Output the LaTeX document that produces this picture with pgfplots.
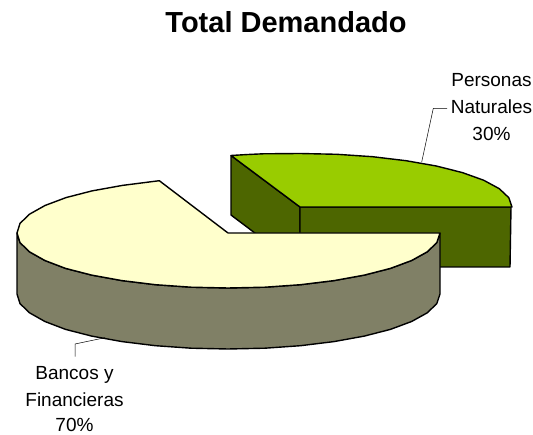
\documentclass[border=0pt]{standalone}
\usepackage{fontspec}
\setmainfont{Liberation Sans}
\usepackage{pgfplots}
\pgfplotsset{compat=1.18}
\definecolor{gtop}{HTML}{99CC00}
\definecolor{gside}{HTML}{4D6600}
\definecolor{ytop}{HTML}{FFFFCC}
\definecolor{yside}{HTML}{808066}
\begin{document}
\begin{tikzpicture}
\path[use as bounding box] (0,0) rectangle (533pt,435pt);
\begin{axis}[at={(0,0)},anchor=south west,width=533pt,height=435pt,scale only axis,
  xmin=0,xmax=533,ymin=0,ymax=435,y dir=reverse,hide axis,clip=false,
  every axis plot/.append style={line width=1.4pt,line join=round,mark=none}]
% green slice: left wall
\addplot[draw=black,fill=gside] coordinates {(231,155.5)(300,207)(300,267)(231,215)(231,155.5)};
% green slice: front wall
\addplot[draw=black,fill=gside] coordinates {(300,207)(511,207)(510,267)(300,267)(300,207)};
% green slice: top
\addplot[draw=black,fill=gtop] coordinates {
(300,207)(231,155.5)(246,154.6)(263.1,153.8)(300,153.5)(336.9,154.3)(372.5,156.7)(406,160.7)
(436.3,166)(462.4,172.6)(483.6,180.2)(499.3,188.7)(508.8,197.7)(512,207)(300,207)};
% pale slice: outer wall
\addplot[draw=black,fill=yside] coordinates {
(440,233)(436.8,242.6)(427.3,251.8)(411.6,260.5)(390.4,268.4)(364.3,275.1)(334,280.6)(300.5,284.7)
(264.9,287.2)(228,288)(191.1,287.2)(155.5,284.7)(122,280.6)(91.7,275.1)(65.6,268.4)(44.9,260.5)
(29.5,251.8)(20,242.6)(17,233)
(17,294)(20,303.6)(29.5,312.8)(44.9,321.5)(65.6,329.4)(91.7,336.1)(122,341.6)(155.5,345.7)
(191.1,348.2)(228,349)(264.9,348.2)(300.5,345.7)(334,341.6)(364.3,336.1)(390.4,329.4)(411.6,321.5)
(427.3,312.8)(436.8,303.6)(440,294)(440,233)};
% pale slice: top
\addplot[draw=black,fill=ytop] coordinates {
(228,233)(440,233)(436.8,242.6)(427.3,251.8)(411.6,260.5)(390.4,268.4)(364.3,275.1)(334,280.6)(300.5,284.7)
(264.9,287.2)(228,288)(191.1,287.2)(155.5,284.7)(122,280.6)(91.7,275.1)(65.6,268.4)(44.9,260.5)
(29.5,251.8)(20,242.6)(17,233)(20,223.4)(29.5,214.2)(45,205.5)(66,197.6)(92,190.9)(122.5,185.4)(159.3,180.7)(228,233)};
% leader lines
\addplot[draw=black,line width=0.5pt] coordinates {(421.7,162)(433.3,108.3)(447,108.3)};
\addplot[draw=black,line width=0.5pt] coordinates {(105,337.7)(75,344)(75,356.7)};
% texts
\node[anchor=base,font=\fontsize{29}{29}\selectfont\bfseries] at (axis cs:286,33) {Total Demandado};
\node[anchor=base,font=\fontsize{19}{19}\selectfont] at (axis cs:491.5,86.7) {Personas};
\node[anchor=base,font=\fontsize{19}{19}\selectfont] at (axis cs:491.5,114) {Naturales};
\node[anchor=base,font=\fontsize{19}{19}\selectfont] at (axis cs:491.5,141) {30\%};
\node[anchor=base,font=\fontsize{19}{19}\selectfont] at (axis cs:74.5,380) {Bancos y};
\node[anchor=base,font=\fontsize{19}{19}\selectfont] at (axis cs:74.5,406.5) {Financieras};
\node[anchor=base,font=\fontsize{19}{19}\selectfont] at (axis cs:74.5,431.5) {70\%};
\end{axis}
\end{tikzpicture}
\end{document}
